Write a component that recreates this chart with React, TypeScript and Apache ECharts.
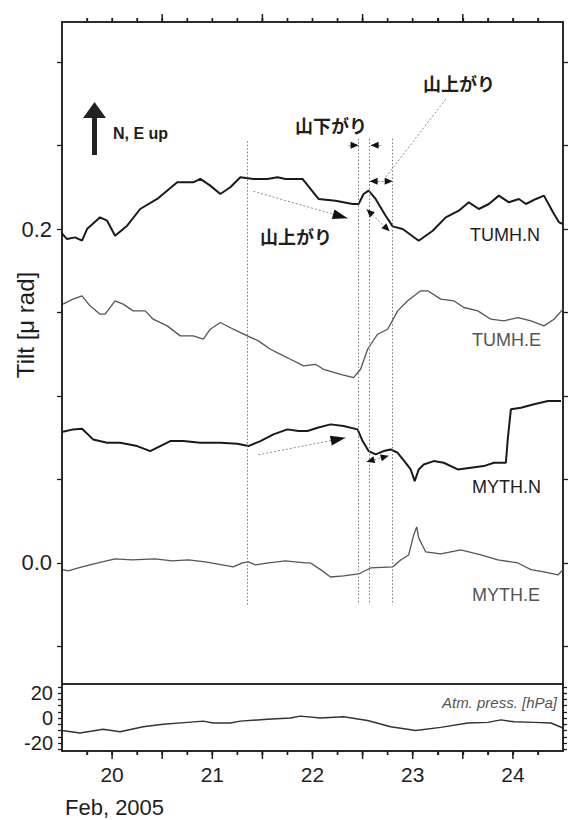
import { useEffect, useRef } from 'react';
import * as echarts from 'echarts';

// ---------- data (day of Feb 2005, value) ----------
const tumhN: [number, number][] = [
  [19.49, 0.198], [19.55, 0.194], [19.63, 0.195], [19.7, 0.193], [19.75, 0.2], [19.88, 0.207],
  [19.95, 0.205], [20.03, 0.196], [20.15, 0.202], [20.28, 0.212], [20.45, 0.218], [20.65, 0.228],
  [20.81, 0.228], [20.88, 0.23], [20.98, 0.226], [21.08, 0.221], [21.18, 0.225], [21.28, 0.231],
  [21.41, 0.23], [21.55, 0.23], [21.65, 0.231], [21.73, 0.23], [21.9, 0.23], [22.06, 0.218],
  [22.23, 0.217], [22.4, 0.215], [22.46, 0.215], [22.51, 0.221], [22.56, 0.223], [22.63, 0.218],
  [22.73, 0.208], [22.8, 0.2016], [22.9, 0.2], [23.06, 0.193], [23.2, 0.199], [23.33, 0.207],
  [23.46, 0.211], [23.56, 0.216], [23.66, 0.212], [23.76, 0.215], [23.86, 0.22], [23.96, 0.216],
  [24.06, 0.218], [24.13, 0.215], [24.23, 0.218], [24.31, 0.22], [24.4, 0.21], [24.46, 0.204], [24.5, 0.203],
];

const tumhE: [number, number][] = [
  [19.51, 0.155], [19.61, 0.158], [19.7, 0.16], [19.78, 0.154], [19.88, 0.149], [19.93, 0.149],
  [20.03, 0.157], [20.11, 0.155], [20.21, 0.151], [20.33, 0.151], [20.41, 0.146], [20.55, 0.142],
  [20.68, 0.136], [20.81, 0.136], [20.91, 0.134], [20.98, 0.14], [21.08, 0.144], [21.21, 0.14],
  [21.35, 0.136], [21.46, 0.133], [21.58, 0.128], [21.71, 0.124], [21.78, 0.122], [21.91, 0.118],
  [22.03, 0.119], [22.11, 0.116], [22.28, 0.113], [22.41, 0.111], [22.48, 0.116], [22.55, 0.128],
  [22.65, 0.137], [22.75, 0.14], [22.85, 0.151], [22.95, 0.157], [23.08, 0.163], [23.15, 0.163],
  [23.28, 0.158], [23.41, 0.157], [23.51, 0.153], [23.65, 0.151], [23.78, 0.146], [23.91, 0.145],
  [24.05, 0.147], [24.18, 0.145], [24.31, 0.142], [24.41, 0.146], [24.5, 0.152],
];

const mythN: [number, number][] = [
  [19.51, 0.0786], [19.61, 0.08], [19.7, 0.0804], [19.81, 0.074], [19.95, 0.072], [20.08, 0.072],
  [20.25, 0.07], [20.38, 0.067], [20.48, 0.07], [20.58, 0.073], [20.71, 0.073], [20.88, 0.072],
  [21.08, 0.072], [21.25, 0.0714], [21.36, 0.07], [21.48, 0.073], [21.61, 0.077], [21.75, 0.08],
  [21.86, 0.079], [21.95, 0.079], [22.05, 0.081], [22.18, 0.083], [22.31, 0.082], [22.45, 0.08],
  [22.5, 0.073], [22.56, 0.067], [22.63, 0.065], [22.71, 0.067], [22.78, 0.068], [22.85, 0.066],
  [22.93, 0.06], [22.98, 0.056], [23.02, 0.049], [23.06, 0.056], [23.11, 0.059], [23.21, 0.061],
  [23.31, 0.06], [23.45, 0.056], [23.58, 0.057], [23.71, 0.058], [23.81, 0.06], [23.93, 0.06],
  [23.95, 0.075], [23.98, 0.092], [24.08, 0.093], [24.21, 0.095], [24.35, 0.097], [24.48, 0.097],
];

const mythE: [number, number][] = [
  [19.51, -0.004], [19.56, -0.0048], [19.7, -0.0024], [19.86, 0], [20.03, 0.0024], [20.2, 0.0018],
  [20.43, 0.0024], [20.6, 0.0012], [20.76, 0.0018], [20.93, 0.0006], [21.1, -0.0012], [21.21, -0.0024],
  [21.3, 0], [21.36, 0.0006], [21.43, -0.0012], [21.56, 0], [21.73, 0.0012], [21.93, 0], [21.98, 0],
  [22.08, -0.004], [22.18, -0.0084], [22.31, -0.0078], [22.46, -0.0066], [22.58, -0.003], [22.8, -0.0024],
  [22.88, 0.0018], [22.96, 0.0048], [23.01, 0.0168], [23.04, 0.0216], [23.06, 0.015], [23.13, 0.0066],
  [23.28, 0.0054], [23.48, 0.0078], [23.68, 0.0048], [23.85, 0.0018], [24.05, 0], [24.18, -0.004],
  [24.31, -0.0054], [24.45, -0.0072], [24.5, -0.004],
];

const pressure: [number, number][] = [
  [19.5, -10], [19.68, -12], [19.91, -9], [20.08, -11], [20.31, -7], [20.51, -5], [20.75, -3.5],
  [20.91, -2.5], [21.01, -4], [21.18, -4], [21.28, -2.5], [21.55, -1], [21.78, 0], [21.88, 1.5],
  [22.08, 0], [22.31, 1], [22.55, -2], [22.78, -7], [23.03, -10], [23.28, -7.5], [23.55, -4],
  [23.75, -3.5], [23.88, -1.5], [24.01, -3], [24.21, -3.5], [24.38, -4], [24.5, -8],
];

const dayLabels = [20, 21, 22, 23, 24];
const quarterDayTicks = [19.75, 20, 20.25, 20.5, 20.75, 21, 21.25, 21.5, 21.75, 22, 22.25, 22.5, 22.75, 23, 23.25, 23.5, 23.75, 24, 24.25];
const topMajorTicks = [20.5, 21.5, 22.5, 23.5];
const bottomMajorTicks = [20, 20.5, 21, 21.5, 22, 22.5, 23, 23.5, 24];
const tiltLabels = [0, 0.2];
const tiltTicks = [-0.05, 0, 0.05, 0.1, 0.15, 0.2, 0.25, 0.3];
const pressLabels = [-20, 0, 20];
const pressTicks = [-25, -20, -15, -10, -5, 0, 5, 10, 15, 20, 25];

// event lines: [day, top value]
const eventLines: [number, number][] = [[21.35, 0.2526], [22.46, 0.254], [22.57, 0.254], [22.8, 0.254]];
const eventBottom = -0.025;

// annotation arrows (data coords): from, to, heads, size
type Arrow = { from: [number, number]; to: [number, number]; heads: 'none' | 'end' | 'both'; big: boolean };
const arrows: Arrow[] = [
  { from: [21.41, 0.2226], to: [22.35, 0.2064], heads: 'end', big: true },
  { from: [21.46, 0.0648], to: [22.33, 0.075], heads: 'end', big: true },
  { from: [23.33, 0.2778], to: [22.73, 0.231], heads: 'none', big: false },
  { from: [22.57, 0.2286], to: [22.8, 0.2286], heads: 'both', big: false },
  { from: [22.36, 0.2502], to: [22.46, 0.2502], heads: 'end', big: false },
  { from: [22.68, 0.2502], to: [22.58, 0.2502], heads: 'end', big: false },
  { from: [22.54, 0.2118], to: [22.77, 0.1986], heads: 'both', big: false },
  { from: [22.54, 0.0606], to: [22.76, 0.0642], heads: 'both', big: false },
];

const FONT = '"Liberation Sans", Arial, Helvetica, sans-serif';
const CJK = '"Noto Sans CJK JP", "Noto Sans CJK SC", sans-serif';
const INK = '#1e1e1e';

// layout
const GRID_LEFT = 62, GRID_RIGHT = 7, CHART_W = 570;
const MAIN_TOP = 22, MAIN_H = 662, PRESS_TOP = 684, PRESS_H = 67;

const X_MIN = 19.5, X_MAX = 24.5;
const T_MIN = -0.0725, T_MAX = 0.324;
const P_MIN = -26.4, P_MAX = 27.2;
const PLOT_W = CHART_W - GRID_LEFT - GRID_RIGHT;
const PX_PER_DAY = PLOT_W / (X_MAX - X_MIN);
const PX_PER_TILT = MAIN_H / (T_MAX - T_MIN);

function buildMarkLines() {
  const out: any[] = [];
  eventLines.forEach(([x, top]) => {
    out.push([
      { coord: [x, top], symbol: 'none', lineStyle: { color: '#777', type: [1.5, 2], width: 1 } },
      { coord: [x, eventBottom], symbol: 'none' },
    ]);
  });
  const head = (p: [number, number], q: [number, number], big: boolean) => {
    const w = big ? 10 : 7;
    const h = big ? 15 : 8;
    const dx = (q[0] - p[0]) * PX_PER_DAY;
    const dy = (q[1] - p[1]) * PX_PER_TILT;
    const L = Math.sqrt(dx * dx + dy * dy);
    const back = h / 2 / L;
    const end: [number, number] = [q[0] - (q[0] - p[0]) * back, q[1] - (q[1] - p[1]) * back];
    const start: [number, number] = [q[0] - (q[0] - p[0]) * (back * 1.5), q[1] - (q[1] - p[1]) * (back * 1.5)];
    out.push([
      { coord: start, symbol: 'none', lineStyle: { color: '#111', width: 1, type: 'solid' } },
      { coord: end, symbol: 'triangle', symbolSize: [w, h] },
    ]);
  };
  arrows.forEach((a) => {
    out.push([
      { coord: a.from, symbol: 'none', lineStyle: { color: '#8a8a8a', type: [2, 2], width: 1 } },
      { coord: a.to, symbol: 'none' },
    ]);
    if (a.heads === 'end' || a.heads === 'both') head(a.from, a.to, a.big);
    if (a.heads === 'both') head(a.to, a.from, a.big);
  });
  return out;
}

// axis tick strokes along the top and bottom edges of the frame
function xTickGraphics() {
  const out: any[] = [];
  const add = (values: number[], y: number, len: number) => {
    values.forEach((v) => {
      const px = GRID_LEFT + (v - X_MIN) * PX_PER_DAY;
      out.push({
        type: 'line', z: 100,
        shape: { x1: px, y1: y, x2: px, y2: y + len },
        style: { stroke: INK, lineWidth: 1.5 },
      });
    });
  };
  add(quarterDayTicks, MAIN_TOP, -4);
  add(topMajorTicks, MAIN_TOP, -8);
  add(quarterDayTicks, PRESS_TOP + PRESS_H, 4);
  add(bottomMajorTicks, PRESS_TOP + PRESS_H, 8);
  return out;
}

export default function App() {
  const ref = useRef<HTMLDivElement>(null);
  useEffect(() => {
    document.body.style.margin = '0';
    if (!ref.current) return;
    const chart = echarts.init(ref.current, null, { renderer: 'svg' });
    const axisLine = () => ({ show: true, onZero: false, lineStyle: { color: INK, width: 1.5 } });
    const tickStyle = () => ({ color: INK, width: 1.3 });
    const noSplit = { splitLine: { show: false }, minorSplitLine: { show: false }, minorTick: { show: false } };
    const graphics: any[] = [
      { type: 'polygon', shape: { points: [[83, 118], [94.5, 102], [106, 118]] }, style: { fill: '#222' } },
      { type: 'rect', shape: { x: 92, y: 116, width: 5, height: 39 }, style: { fill: '#222' } },
      { type: 'text', x: 113, y: 133, style: { text: 'N, E up', font: `bold 16px ${FONT}`, fill: INK, verticalAlign: 'middle' } },
      { type: 'text', x: 423, y: 83, style: { text: '山上がり', font: `bold 18px ${CJK}`, fill: INK, verticalAlign: 'middle' } },
      { type: 'text', x: 295, y: 125, style: { text: '山下がり', font: `bold 18px ${CJK}`, fill: INK, verticalAlign: 'middle' } },
      { type: 'text', x: 260, y: 236, style: { text: '山上がり', font: `bold 18px ${CJK}`, fill: INK, verticalAlign: 'middle' } },
      { type: 'text', x: 470, y: 235, style: { text: 'TUMH.N', font: `18px ${FONT}`, fill: INK, verticalAlign: 'middle' } },
      { type: 'text', x: 472, y: 340, style: { text: 'TUMH.E', font: `18px ${FONT}`, fill: '#555', verticalAlign: 'middle' } },
      { type: 'text', x: 472, y: 487, style: { text: 'MYTH.N', font: `18px ${FONT}`, fill: INK, verticalAlign: 'middle' } },
      { type: 'text', x: 472, y: 595, style: { text: 'MYTH.E', font: `18px ${FONT}`, fill: '#555', verticalAlign: 'middle' } },
      { type: 'text', x: 557, y: 702, style: { text: 'Atm. press. [hPa]', font: `italic 15px ${FONT}`, fill: '#555', align: 'right', verticalAlign: 'middle' } },
      { type: 'text', x: 65, y: 807, style: { text: 'Feb, 2005', font: `22px ${FONT}`, fill: INK, verticalAlign: 'middle' } },
      { type: 'text', x: 25, y: 325, rotation: Math.PI / 2, style: { text: 'Tilt [μ rad]', font: `24px ${FONT}`, fill: INK, align: 'center', verticalAlign: 'middle' } },
      ...xTickGraphics(),
    ];
    const option: any = {
      animation: false,
      grid: [
        { left: GRID_LEFT, right: GRID_RIGHT, top: MAIN_TOP, height: MAIN_H, show: true, borderColor: INK, borderWidth: 1.5 },
        { left: GRID_LEFT, right: GRID_RIGHT, top: PRESS_TOP, height: PRESS_H, show: true, borderColor: INK, borderWidth: 1.5 },
      ],
      xAxis: [
        {
          gridIndex: 0, type: 'value', position: 'top', min: X_MIN, max: X_MAX, ...noSplit,
          axisLine: axisLine(),
          axisTick: { show: true, length: 4, customValues: quarterDayTicks, lineStyle: tickStyle() },
          axisLabel: { show: false },
        },
        {
          gridIndex: 1, type: 'value', position: 'bottom', min: X_MIN, max: X_MAX, ...noSplit,
          axisLine: axisLine(),
          axisTick: { show: true, length: 4, customValues: quarterDayTicks, lineStyle: tickStyle() },
          axisLabel: { show: true, customValues: dayLabels, margin: 13, fontSize: 21, color: INK, fontFamily: FONT },
        },
      ],
      yAxis: [
        {
          gridIndex: 0, type: 'value', position: 'left', min: T_MIN, max: T_MAX,
          axisLine: axisLine(), axisTick: { show: true, length: 5, customValues: tiltTicks, lineStyle: tickStyle() },
          axisLabel: { show: true, customValues: tiltLabels, formatter: (v: number) => v.toFixed(1), fontSize: 22, color: INK, fontFamily: FONT, margin: 10 },
          splitLine: { show: false },
        },
        {
          gridIndex: 0, type: 'value', position: 'right', min: T_MIN, max: T_MAX,
          axisLine: axisLine(), axisTick: { show: true, length: 5, customValues: tiltTicks, lineStyle: tickStyle() },
          axisLabel: { show: false }, splitLine: { show: false },
        },
        {
          gridIndex: 1, type: 'value', position: 'left', min: P_MIN, max: P_MAX,
          axisLine: axisLine(), axisTick: { show: true, length: 4, customValues: pressTicks, lineStyle: tickStyle() },
          axisLabel: { show: true, customValues: pressLabels, fontSize: 20, color: INK, fontFamily: FONT, margin: 9 },
          splitLine: { show: false },
        },
        {
          gridIndex: 1, type: 'value', position: 'right', min: P_MIN, max: P_MAX,
          axisLine: axisLine(), axisTick: { show: true, length: 4, customValues: pressTicks, lineStyle: tickStyle() },
          axisLabel: { show: false }, splitLine: { show: false },
        },
      ],
      series: [
        {
          name: 'TUMH.N', type: 'line', xAxisIndex: 0, yAxisIndex: 0, data: tumhN, symbol: 'none', silent: true,
          lineStyle: { color: '#1a1a1a', width: 2 },
        },
        {
          name: 'TUMH.E', type: 'line', xAxisIndex: 0, yAxisIndex: 0, data: tumhE, symbol: 'none', silent: true,
          lineStyle: { color: '#555', width: 1.3 },
        },
        {
          name: 'MYTH.N', type: 'line', xAxisIndex: 0, yAxisIndex: 0, data: mythN, symbol: 'none', silent: true,
          lineStyle: { color: '#1a1a1a', width: 2 },
        },
        {
          name: 'MYTH.E', type: 'line', xAxisIndex: 0, yAxisIndex: 0, data: mythE, symbol: 'none', silent: true,
          lineStyle: { color: '#555', width: 1.3 },
          markLine: {
            silent: true, animation: false, symbol: ['none', 'none'], label: { show: false },
            emphasis: { disabled: true }, data: buildMarkLines(),
          },
        },
        {
          name: 'Atm. press.', type: 'line', xAxisIndex: 1, yAxisIndex: 2, data: pressure, symbol: 'none', silent: true,
          lineStyle: { color: '#333', width: 1.5 },
        },
      ],
      graphic: graphics,
    };
    chart.setOption(option);
    return () => chart.dispose();
  }, []);
  return <div ref={ref} style={{ width: CHART_W, height: 820 }} />;
}
